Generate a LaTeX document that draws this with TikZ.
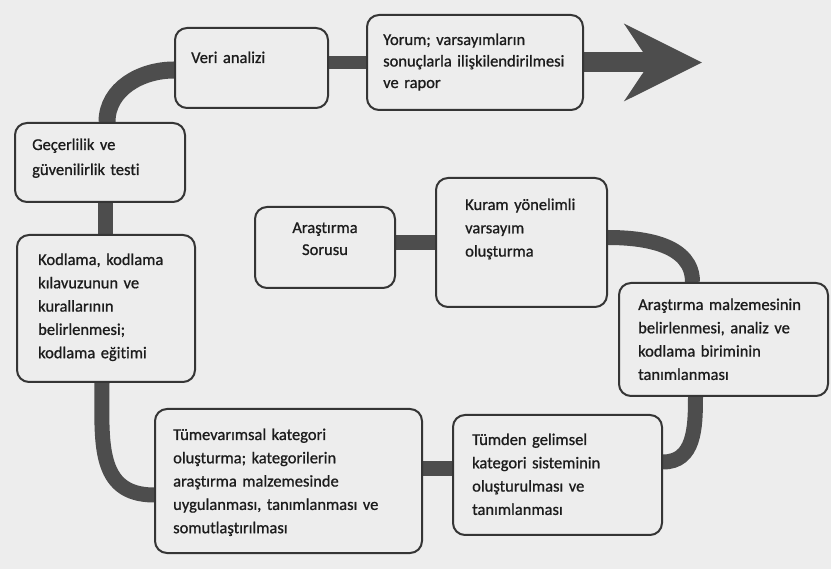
\documentclass[tikz,border=0pt]{standalone}
\usepackage{fontspec}
\setmainfont{Carlito}[Ligatures=CommonOff,FakeBold=0.9]
\usetikzlibrary{arrows.meta,backgrounds}
\definecolor{paper}{HTML}{EDEDED}
\definecolor{edge}{HTML}{353535}
\definecolor{band}{HTML}{4D4D4D}
\definecolor{ink}{HTML}{1C1C1C}
\tikzset{
  box/.style={draw=edge, line width=2pt, rounded corners=12pt, fill=paper, inner sep=0pt},
  txt/.style={anchor=base west, inner sep=0pt, align=left, text width=#1, text=ink,
              font=\fontsize{16.5}{23.3}\selectfont},
  conn/.style={draw=band, line width=15pt},
}
\begin{document}
\begin{tikzpicture}[x=1pt,y=-1pt]
\useasboundingbox (0,0) rectangle (831,569);
% boxes
\node[box, minimum width=153pt, minimum height=80pt]  (veri)   at (251.5,68)  {};
\node[box, minimum width=216pt, minimum height=95pt]  (yorum)  at (475,62.5)  {};
\node[box, minimum width=170pt, minimum height=79pt]  (gecer)  at (100,162.5) {};
\node[box, minimum width=178pt, minimum height=147pt] (kod)    at (106,308.5) {};
\node[box, minimum width=140pt, minimum height=81pt]  (soru)   at (325,247.5) {};
\node[box, minimum width=171pt, minimum height=129pt] (kuram)  at (521.5,242.5) {};
\node[box, minimum width=209pt, minimum height=113pt] (malz)   at (723.5,339.5) {};
\node[box, minimum width=267pt, minimum height=144pt] (tumev)  at (288.5,481) {};
\node[box, minimum width=209pt, minimum height=120pt] (tumden) at (557.5,475) {};
% texts
\node[txt=140pt] (veri-t) at (191,63) {Veri analizi};
\node[txt=200pt, font=\fontsize{16.5}{21.5}\selectfont] (yorum-t) at (383,45) {Yorum; varsayımların\\sonuçlarla ilişkilendirilmesi\\ve rapor};
\node[txt=150pt, font=\fontsize{16.5}{25}\selectfont] (gecer-t) at (32,150) {Geçerlilik ve\\güvenilirlik testi};
\node[txt=150pt] (kod-t) at (38,265) {Kodlama, kodlama\\kılavuzunun ve\\kurallarının\\belirlenmesi;\\kodlama eğitimi};
\node[txt=130pt, anchor=base, align=center, font=\fontsize{16.5}{22}\selectfont] (soru-t) at (325,233) {Araştırma\\Sorusu};
\node[txt=140pt] (kuram-t) at (465,210) {Kuram yönelimli\\varsayım\\oluşturma};
\node[txt=185pt] (malz-t) at (638,310) {Araştırma malzemesinin\\belirlenmesi, analiz ve\\kodlama biriminin\\tanımlanması};
\node[txt=245pt] (tumev-t) at (173,440) {Tümevarımsal kategori\\oluşturma; kategorilerin\\araştırma malzemesinde\\uygulanması, tanımlanması ve\\somutlaştırılması};
\node[txt=185pt] (tumden-t) at (472,445) {Tümden gelimsel\\kategori sisteminin\\oluşturulması ve\\tanımlanması};
\coordinate (arrowtip) at (702,62.5);
% connectors
\begin{pgfonlayer}{background}
\fill[paper] (0,0) rectangle (831,569);
\draw[conn] (soru.east |- kuram.west) -- (kuram.west);
\draw[conn] ([yshift=5pt]kuram.east) to[out=0,in=90] ([xshift=-31pt]malz.north);
\draw[conn] ([xshift=-28pt]malz.south) to[out=-90,in=0,looseness=1.1] ([yshift=13pt]tumden.east);
\draw[conn] ([yshift=6pt]tumden.west) -- ([yshift=6pt]tumden.west -| tumev.east);
\draw[conn] ([xshift=-4pt]kod.south) to[out=-90,in=180,looseness=1.2] ([yshift=-14pt]tumev.west);
\draw[conn] ([xshift=-1pt]kod.north) -- ([xshift=-1pt]kod.north |- gecer.south);
\draw[conn, line width=17pt] ([xshift=7pt]gecer.north) to[out=90,in=180] ([yshift=-2pt]veri.west);
\draw[conn, line width=13pt] (yorum.west) -- (yorum.west -| veri.east);
\draw[conn, line width=20pt, -{Stealth[length=77pt,width=76pt,inset=25pt]}] (yorum.east) -- (arrowtip);
\end{pgfonlayer}
\end{tikzpicture}
\end{document}
